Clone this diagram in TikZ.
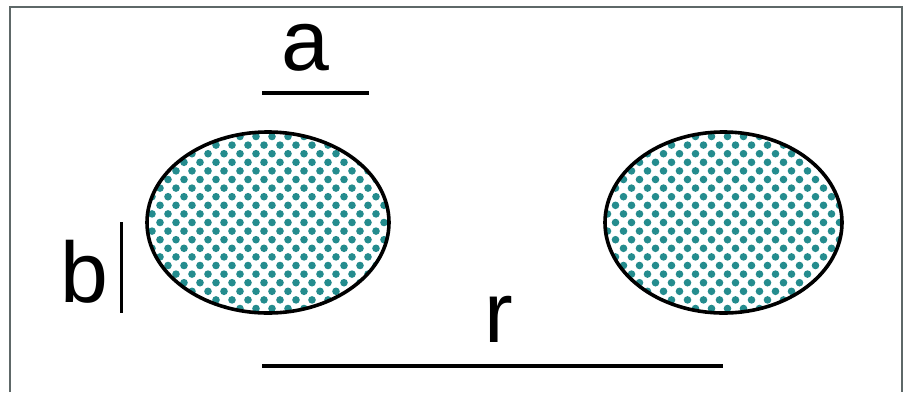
\documentclass[tikz,border=0pt]{standalone}
\usepackage{fontspec}
\setmainfont{Liberation Sans}
\usepackage{xcolor}
\usetikzlibrary{shapes.geometric}
\definecolor{dotteal}{HTML}{248C8E}
\definecolor{framegray}{HTML}{5E6868}

\begin{document}
\begin{tikzpicture}[x=1pt, y=-1pt, letter/.style={font=\fontsize{86}{86}\selectfont,inner sep=0pt,anchor=base}, dimline/.style={line width=4pt}, blob/.style={ellipse,draw,line width=3.6pt,inner sep=0pt,minimum width=#1,minimum height=181pt,path picture={\foreach \j [evaluate=\j as \dx using {4+8*mod(\j,2)}] in {-12,...,12} \foreach \i in {-9,...,9} \fill[dotteal] ([shift={({\i*16pt+\dx pt},{\j*8.6pt})}]path picture bounding box.center) circle (3.8pt);}}]
\useasboundingbox (0,0) rectangle (903,392);
\draw[framegray,line width=2pt] (10,392) -- (10,7) -- (902,7) -- (902,392);
\node[blob=242pt] (left) at (268,222.5) {};
\node[blob=237pt] (right) at (723.5,222.5) {};
\node[letter] (a) at (305,70) {a};
\node[letter] (b) at (84,302) {b};
\node[letter] (r) at (499,342) {r};
\coordinate (a1) at (262,93);
\coordinate (a2) at (369,93);
\coordinate (b1) at (121,222);
\coordinate (b2) at (121,313);
\coordinate (r1) at (262,366);
\coordinate (r2) at (723,366);
\draw[dimline] (a1) -- (a2);
\draw[line width=3pt] (b1) -- (b2);
\draw[dimline] (r1) -- (r2);
\end{tikzpicture}
\end{document}
